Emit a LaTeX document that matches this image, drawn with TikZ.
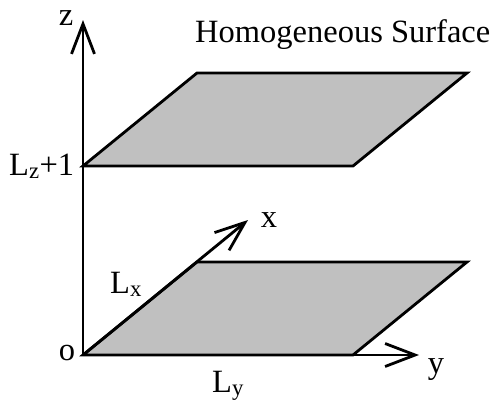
\documentclass[tikz,border=0pt]{standalone}
\usepackage{fontspec}
\setmainfont{Liberation Serif}
\usetikzlibrary{arrows.meta, calc}
\definecolor{planegray}{RGB}{192,192,192}

\begin{document}
\begin{tikzpicture}[
        x=1pt, y=-1pt,
        >={Straight Barb[length=30pt, width=23pt]},
        axis_style/.style={->, line width=2.8pt},
        plane_style/.style={fill=planegray, draw=black, line width=2.8pt, line join=miter},
        label_style/.style={font=\fontsize{32.5}{34}\selectfont, inner sep=0pt}
    ]
    \useasboundingbox (0,0) rectangle (492,400);

    % =========================================================================
    % 1. REFERENCE POINTS
    % =========================================================================
    % Plane edges: 270 along y, (114,-93) along x
    \coordinate (O)    at (83, 355);
    \coordinate (Ztop) at (83, 20);
    \coordinate (Yend) at (419, 355);
    \coordinate (Xend) at (248, 220);

    % Lower plane (z = 0)
    \coordinate (A1) at (83, 355);
    \coordinate (B1) at (353, 355);
    \coordinate (C1) at (467, 262);
    \coordinate (D1) at (197, 262);

    % Upper plane (z = Lz+1)
    \coordinate (A2) at (83, 166);
    \coordinate (B2) at (353, 166);
    \coordinate (C2) at (467, 73);
    \coordinate (D2) at (197, 73);

    % =========================================================================
    % 2. SURFACES
    % =========================================================================
    \draw[plane_style] (A1) -- (B1) -- (C1) -- (D1) -- cycle;
    \draw[plane_style] (A2) -- (B2) -- (C2) -- (D2) -- cycle;

    % =========================================================================
    % 3. AXES
    % =========================================================================
    \draw[axis_style] (O) -- (Ztop);
    \draw[axis_style] (O) -- (Yend);
    \draw[axis_style] (O) -- (Xend);

    % =========================================================================
    % 4. LABELS
    % =========================================================================
    \node[label_style, anchor=base] (zlab) at (66, 25) {z};
    \node[label_style, anchor=base] (xlab) at (269, 227) {x};
    \node[label_style, anchor=base] (ylab) at (436, 373) {y};
    \node[label_style, anchor=base] (olab) at (67, 360) {o};
    \node[label_style, anchor=base west] (title) at (195, 42) {Homogeneous Surface};
    \node[label_style, anchor=base west] (lzlab) at (9, 175) {L\textsubscript{z}+1};
    \node[label_style, anchor=base west] (lxlab) at (110, 293) {L\textsubscript{x}};
    \node[label_style, anchor=base west] (lylab) at (212, 392) {L\textsubscript{y}};

\end{tikzpicture}
\end{document}
